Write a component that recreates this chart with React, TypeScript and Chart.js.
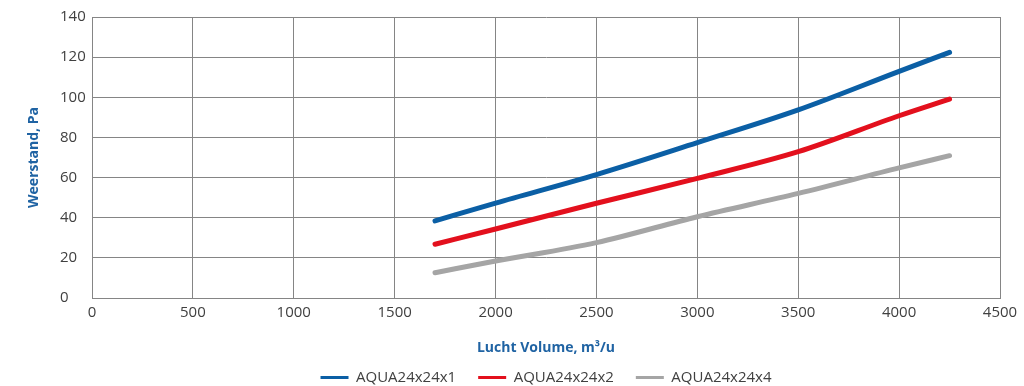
import React, { useEffect, useRef } from "react";
import { Chart, registerables } from "chart.js";

Chart.register(...registerables);

const flow = [1700, 2000, 2500, 3000, 3500, 4000, 4250];
const aqua1 = [38.4, 47.3, 61.5, 77.4, 93.7, 112.9, 122.4];
const aqua2 = [26.8, 34.4, 47.2, 59.6, 72.9, 90.8, 99.1];
const aqua4 = [12.6, 18.4, 27.6, 40.5, 52.1, 64.8, 70.9];
const seriesNames = ["AQUA24x24x1", "AQUA24x24x2", "AQUA24x24x4"];
const seriesColors = ["#0b5fa5", "#e3101d", "#a5a5a5"];

const FONT = "'Open Sans', sans-serif";

export default function App() {
  const ref = useRef<HTMLCanvasElement | null>(null);

  useEffect(() => {
    document.body.style.margin = "0";
    const ctx = ref.current!.getContext("2d")!;
    const allSeries = [aqua1, aqua2, aqua4];
    const defaultLabels = Chart.defaults.plugins.legend.labels.generateLabels;
    const chart = new Chart(ctx, {
      type: "line",
      data: {
        datasets: allSeries.map((vals, i) => ({
          label: seriesNames[i],
          data: flow.map((x, j) => ({ x, y: vals[j] })),
          borderColor: seriesColors[i],
          backgroundColor: seriesColors[i],
          borderWidth: 5,
          borderCapStyle: "round" as const,
          pointRadius: 0,
          cubicInterpolationMode: "monotone" as const,
          fill: false,
        })),
      },
      options: {
        animation: false,
        responsive: false,
        maintainAspectRatio: false,
        layout: { padding: { left: 60, right: 24, top: 17, bottom: 0 } },
        plugins: {
          tooltip: { enabled: false },
          legend: {
            position: "bottom",
            align: "center",
            fullSize: false,
            maxHeight: 38,
            labels: {
              boxWidth: 28,
              boxHeight: 3,
              padding: 22,
              color: "#404040",
              font: { family: FONT, size: 15 },
              generateLabels: (c: any) =>
                defaultLabels(c).map((l: any) => ({ ...l, lineWidth: 0 })),
            },
          },
        },
        scales: {
          x: {
            type: "linear",
            min: 0,
            max: 4500,
            ticks: {
              stepSize: 500,
              padding: 6,
              color: "#404040",
              font: { family: FONT, size: 15 },
              maxRotation: 0,
              callback: (v: any) => String(v),
            },
            grid: { color: "#858585", lineWidth: 1, drawTicks: false },
            border: { color: "#858585", width: 1 },
            title: {
              display: true,
              text: "Lucht Volume, m³/u",
              color: "#1f63a3",
              font: { family: FONT, size: 14, weight: "bold" },
              padding: { top: 0, bottom: -8.4 },
            },
            afterFit: (scale: any) => {
              scale.height = 50;
            },
          },
          y: {
            type: "linear",
            min: 0,
            max: 140,
            ticks: {
              stepSize: 20,
              padding: 6,
              crossAlign: "far",
              color: "#404040",
              font: { family: FONT, size: 15 },
            },
            grid: { color: "#858585", lineWidth: 1, drawTicks: false },
            border: { color: "#858585", width: 1 },
            title: {
              display: true,
              text: "Weerstand, Pa",
              color: "#1f63a3",
              font: { family: FONT, size: 14, weight: "bold" },
              padding: { top: -33.9, bottom: 0 },
            },
            afterFit: (scale: any) => {
              scale.width = 32;
            },
          },
        },
      },
    });
    return () => chart.destroy();
  }, []);

  return (
    <div style={{ position: "absolute", left: 0, top: 0, width: 1024, height: 386 }}>
      <canvas ref={ref} width={1024} height={386} style={{ width: 1024, height: 386, display: "block" }} />
    </div>
  );
}
